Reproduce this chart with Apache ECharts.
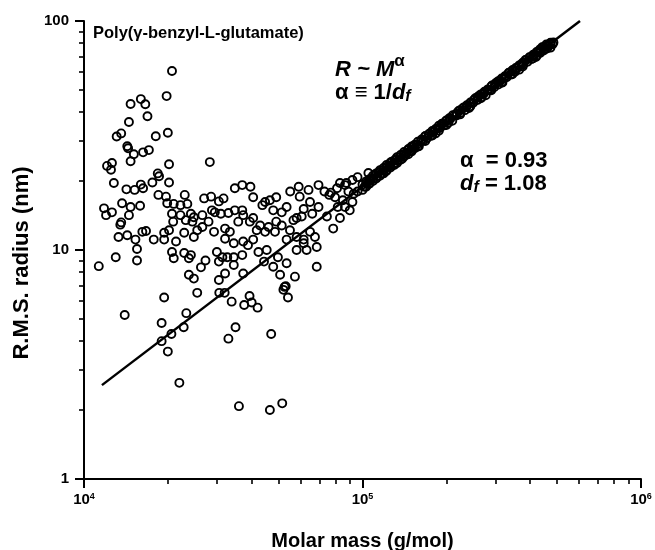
<!DOCTYPE html>
<html>
<head>
<meta charset="utf-8">
<script src="https://cdn.jsdelivr.net/npm/echarts@6/dist/echarts.min.js"></script>
<style>
html,body{margin:0;padding:0;background:#fff;}
#chart{width:655px;height:550px;}
</style>
</head>
<body>
<div id="chart"></div>
<script>
// ---- data (molar mass g/mol, RMS radius nm) ----
const xMajorTicks = [1e4, 1e5, 1e6];
const xMinorTicks = [2e4,3e4,4e4,5e4,6e4,7e4,8e4,9e4,2e5,3e5,4e5,5e5,6e5,7e5,8e5,9e5];
const yMajorTicks = [1, 10, 100];
const yMinorTicks = [2,3,4,5,6,7,8,9,20,30,40,50,60,70,80,90];

const pointsUpper = [
 [2.07e4,60.5],[1.98e4,47],[1.6e4,45.6],[1.66e4,43.3],[1.47e4,43.4],[1.69e4,38.4],[1.45e4,36.2],
 [2.0e4,32.5],[1.81e4,31.4],[1.31e4,31.3],[1.36e4,32.3],[1.43e4,28.4],[1.44e4,27.8],[1.51e4,26.2],
 [1.63e4,26.7],[1.71e4,27.3],[1.47e4,24.4],[2.02e4,23.7],[2.83e4,24.2],[1.21e4,23.3],[1.26e4,24.0],
 [1.25e4,22.4],[1.84e4,21.6],[1.86e4,21.0],[1.6e4,19.3]
];
const pointsCluster = [
 [1.28e4,19.6],[1.42e4,18.4],[1.52e4,18.3],[1.63e4,18.6],[1.76e4,19.7],[2.02e4,19.7],[1.85e4,17.4],
 [1.97e4,17.1],[2.3e4,17.4],[2.7e4,16.8],[2.86e4,17.1],[3.05e4,16.3],[1.18e4,15.2],[1.2e4,14.2],
 [1.26e4,14.6],[1.37e4,16.0],[1.47e4,15.4],[1.59e4,15.6],[1.45e4,14.2],[1.36e4,13.2],[1.35e4,12.9],
 [1.99e4,16.0],[2.1e4,15.9],[2.22e4,15.7],[2.35e4,15.9],[2.07e4,14.4],[2.22e4,14.2],[2.42e4,14.4],
 [2.48e4,13.9],[2.66e4,14.2],[2.88e4,14.9],[2.09e4,13.3],[2.32e4,13.5],[2.45e4,13.3],[2.55e4,12.2],
 [2.66e4,12.6],[2.8e4,13.3],[2.93e4,12.0],[3.1e4,14.4],[1.33e4,11.4],[1.43e4,11.6],[1.53e4,11.1],
 [1.62e4,12.0],[1.67e4,12.1],[1.78e4,11.1],[1.94e4,11.1],[1.94e4,11.9],[2.02e4,12.2],[2.14e4,10.9],
 [2.29e4,11.9],[2.48e4,11.4],[1.55e4,10.1],[1.55e4,9.0],[1.3e4,9.3],[1.13e4,8.5],[2.07e4,9.8],
 [2.1e4,9.2],[2.29e4,9.7],[2.42e4,9.5],[2.38e4,9.2],[2.73e4,9.0],[2.63e4,8.4],[3.05e4,8.9],
 [2.38e4,7.8],[2.48e4,7.5],[3.05e4,7.4],[2.55e4,6.5],[1.94e4,6.2],
 [3.48e4,18.6],[3.7e4,19.2],[3.96e4,18.9],[4.05e4,17.0],[5.9e4,18.9],[5.5e4,18.0],[5.95e4,17.1],
 [4.9e4,17.0],[4.47e4,16.2],[4.65e4,16.5],[4.37e4,15.7],[3.17e4,16.8],[2.95e4,14.6],[3.3e4,14.5],
 [3.48e4,14.9],[3.7e4,14.9],[4.78e4,14.9],[5.13e4,14.6],[5.34e4,15.4],[6.15e4,15.1],[6.48e4,16.2],
 [6.95e4,15.4],[7.6e4,17.4],[8.1e4,18.6],[8.65e4,19.2],[3.73e4,14.2],[3.58e4,13.3],[3.94e4,13.3],
 [4.05e4,13.8],[4.29e4,12.8],[4.6e4,12.6],[4.9e4,13.3],[5.8e4,13.8],[6.05e4,14.0],[6.6e4,14.4],
 [7.45e4,14.0],[8.3e4,13.8],[7.85e4,12.4],[3.21e4,12.4],[3.34e4,12.0],[3.21e4,11.2],[3.45e4,10.7],
 [3.73e4,10.9],[3.88e4,10.5],[4.05e4,11.1],[4.17e4,12.2],[4.47e4,12.0],[4.85e4,12.0],[5.13e4,12.8],
 [5.49e4,12.2],[5.65e4,13.5],[5.34e4,11.1],[5.8e4,11.4],[6.15e4,11.1],[6.48e4,12.0],[6.75e4,11.4],
 [3.0e4,9.8],[3.14e4,9.3],[3.27e4,9.3],[3.45e4,9.3],[3.7e4,9.5],[3.45e4,8.6],[3.21e4,7.9],
 [3.73e4,7.9],[4.23e4,9.8],[4.53e4,10.0],[4.43e4,8.9],[4.78e4,8.45],[4.97e4,9.3],[5.34e4,8.75],
 [5.06e4,7.8],[5.72e4,7.65],[5.8e4,10.0],[6.3e4,10.0],[6.15e4,10.7],[6.85e4,10.3],[6.85e4,8.45]
];
const pointsLower = [
 [3.06e4,6.5],[3.2e4,6.5],[3.39e4,5.95],[3.93e4,6.3],[3.76e4,5.75],[4.0e4,5.9],[4.2e4,5.6],
 [5.2e4,6.7],[5.4e4,6.2],[1.40e4,5.2],[2.33e4,5.3],[1.9e4,4.8],[2.28e4,4.6],[2.06e4,4.3],
 [1.9e4,4.0],[2.0e4,3.6],[3.5e4,4.6],[3.3e4,4.1],[4.7e4,4.3],[2.2e4,2.63],[3.6e4,2.08],
 [4.65e4,2.0],[5.15e4,2.14],[5.25e4,6.9],[5.3e4,6.95]
];
const pointsTransition = [
 [6.95e4,19.2],[7.3e4,18.0],[6.4e4,18.3],[8.3e4,19.6],[8.75e4,19.6],[7.97e4,17.0],[8.5e4,16.5],
 [9.0e4,14.9],[9.2e4,20.2],[9.6e4,20.8],[1.05e5,21.7],[8.15e4,15.4],[8.65e4,15.4],[7.7e4,17.8],
 [9.3e4,17.6],[9.6e4,18.0],[8.9e4,18.0],[9.2e4,16.2]
];
const pointsFitBand = [
 [1.0e5,19.3],[1.0e5,18.3],[1.03e5,19.9],[1.03e5,18.9],[1.06e5,20.4],[1.06e5,19.5],[1.09e5,21.1],
 [1.09e5,20.0],[1.12e5,21.6],[1.12e5,20.5],[1.155e5,22.3],[1.155e5,21.1],[1.19e5,22.8],[1.19e5,21.6],
 [1.22e5,23.5],[1.22e5,22.2],[1.26e5,24.1],[1.26e5,22.9],[1.30e5,24.6],[1.30e5,23.5],[1.33e5,25.4],
 [1.33e5,24.0],[1.37e5,26.0],[1.37e5,24.8],[1.41e5,26.8],[1.41e5,25.6],[1.46e5,27.4],[1.46e5,26.2],
 [1.50e5,28.3],[1.50e5,26.9],[1.54e5,28.8],[1.58e5,29.7],[1.58e5,28.3],[1.63e5,30.4],[1.68e5,31.4],
 [1.68e5,29.9],[1.73e5,32.0],[1.78e5,33.1],[1.78e5,31.6],[1.83e5,33.8],[1.88e5,34.9],[1.88e5,33.2],
 [1.94e5,35.6],[2.0e5,36.8],[2.0e5,35.1],[2.05e5,37.6],[2.11e5,38.8],[2.18e5,39.6],[2.24e5,40.8],
 [2.24e5,39.1],[2.31e5,41.9],[2.37e5,42.9],[2.44e5,44.1],[2.44e5,42.4],[2.51e5,45.2],[2.59e5,46.6],
 [2.66e5,47.8],[2.66e5,46.0],[2.74e5,49.1],[2.82e5,50.3],[2.90e5,51.8],[2.90e5,49.8],[2.99e5,53.1],
 [3.07e5,54.6],[3.16e5,56.1],[3.16e5,53.9],[3.26e5,57.6],[3.35e5,59.1],[3.45e5,60.8],[3.45e5,58.5],
 [3.55e5,62.4],[3.65e5,64.0],[3.76e5,65.8],[3.76e5,63.3],[3.87e5,67.6],[3.98e5,69.4],[4.10e5,71.3],
 [4.10e5,68.7],[4.22e5,73.3],[4.22e5,70.5],[4.34e5,75.2],[4.34e5,72.4],[4.47e5,76.8],[4.47e5,74.3],
 [4.60e5,78.0],[4.60e5,75.8],[4.73e5,79.0],[4.73e5,76.5],[4.85e5,80.5]
];
const pointsFitBandDense = [
 [1.017e5,18.9],[1.035e5,19.6],[1.053e5,19.4],[1.072e5,20.4],[1.090e5,20.4],[1.109e5,21.4],[1.129e5,21.0],
 [1.148e5,21.9],[1.168e5,21.5],[1.189e5,22.3],[1.209e5,22.0],[1.230e5,23.2],[1.252e5,23.2],[1.274e5,24.3],
 [1.296e5,23.8],[1.318e5,24.9],[1.341e5,24.5],[1.365e5,25.4],[1.388e5,25.0],[1.413e5,26.3],[1.437e5,26.4],
 [1.462e5,27.6],[1.488e5,27.1],[1.514e5,28.3],[1.540e5,27.8],[1.567e5,28.8],[1.594e5,28.4],[1.622e5,29.9],
 [1.650e5,30.0],[1.679e5,31.4],[1.708e5,30.8],[1.738e5,32.2],[1.768e5,31.6],[1.799e5,32.8],[1.830e5,32.3],
 [1.862e5,34.0],[1.895e5,34.1],[1.928e5,35.6],[1.961e5,35.0],[1.995e5,36.6],[2.030e5,35.9],[2.065e5,37.3],
 [2.101e5,36.7],[2.138e5,38.7],[2.175e5,38.7],[2.213e5,40.5],[2.252e5,39.8],[2.291e5,41.6],[2.331e5,40.8],
 [2.371e5,42.4],[2.413e5,41.7],[2.455e5,43.9],[2.497e5,44.0],[2.541e5,46.0],[2.585e5,45.2],[2.630e5,47.3],
 [2.676e5,46.4],[2.723e5,48.1],[2.770e5,47.4],[2.818e5,49.9],[2.867e5,50.0],[2.917e5,52.3],[2.968e5,51.4],
 [3.020e5,53.8],[3.073e5,52.8],[3.126e5,54.7],[3.181e5,53.9],[3.236e5,56.8],[3.292e5,56.8],[3.350e5,59.5],
 [3.408e5,58.4],[3.467e5,61.1],[3.528e5,60.0],[3.589e5,62.2],[3.652e5,61.3],[3.715e5,64.5],[3.780e5,64.6],
 [3.846e5,67.6],[3.913e5,66.3],[3.981e5,69.5],[4.050e5,68.2],[4.121e5,70.7],[4.193e5,69.7],[4.266e5,73.3],
 [4.340e5,73.4],[4.416e5,76.8],[4.493e5,75.4],[4.571e5,78.9],[4.650e5,77.5],[4.732e5,80.3],[4.814e5,79.2]
];
// fitted power law R ~ M^0.93: end points of the drawn line
const fitMass = [1.16e4, 6.04e5];
const fitRadius = [2.57, 100];

const FONT = 'Liberation Sans, Arial, sans-serif';
const allPoints = [].concat(pointsUpper, pointsCluster, pointsLower, pointsTransition, pointsFitBand, pointsFitBandDense);
const fitData = fitMass.map((m, i) => [m, fitRadius[i]]);

const chart = echarts.init(document.getElementById('chart'), null, {renderer: 'canvas'});
const option = {
  animation: false,
  backgroundColor: '#fff',
  grid: {left: 84, right: 14, top: 21, bottom: 71, containLabel: false, outerBoundsMode: 'none'},
  xAxis: [
    {
      type: 'log', min: 1e4, max: 1e6, position: 'bottom', splitLine: {show: false},
      axisLine: {show: true, lineStyle: {color: '#000', width: 2}},
      axisTick: {show: true, customValues: xMajorTicks, length: 9, lineStyle: {color: '#000', width: 2}},
      axisLabel: {
        customValues: xMajorTicks, margin: 13, color: '#000',
        formatter: v => '{b|10}{s|' + Math.round(Math.log10(v)) + '}',
        rich: {
          b: {fontFamily: FONT, fontWeight: 'bold', fontSize: 15, color: '#000'},
          s: {fontFamily: FONT, fontWeight: 'bold', fontSize: 9, color: '#000', verticalAlign: 'top'}
        }
      },
      name: 'Molar mass (g/mol)', nameLocation: 'middle', nameGap: 52,
      nameTextStyle: {fontFamily: FONT, fontWeight: 'bold', fontSize: 20, color: '#000'}
    },
    {
      type: 'log', min: 1e4, max: 1e6, position: 'bottom', splitLine: {show: false},
      axisLine: {show: false},
      axisTick: {show: true, customValues: xMinorTicks, length: 5, lineStyle: {color: '#000', width: 1.6}},
      axisLabel: {show: false}
    }
  ],
  yAxis: [
    {
      type: 'log', min: 1, max: 100, position: 'left', splitLine: {show: false},
      axisLine: {show: true, lineStyle: {color: '#000', width: 2}},
      axisTick: {show: true, customValues: yMajorTicks, length: 9, lineStyle: {color: '#000', width: 2}},
      axisLabel: {
        customValues: yMajorTicks, margin: 15, color: '#000',
        fontFamily: FONT, fontWeight: 'bold', fontSize: 15,
        formatter: v => String(Math.round(v))
      }
    },
    {
      type: 'log', min: 1, max: 100, position: 'left', splitLine: {show: false},
      axisLine: {show: false},
      axisTick: {show: true, customValues: yMinorTicks, length: 5, lineStyle: {color: '#000', width: 1.6}},
      axisLabel: {show: false}
    }
  ],
  series: [
    {
      type: 'scatter', xAxisIndex: 0, yAxisIndex: 0, data: allPoints,
      symbol: 'circle', symbolSize: 8, z: 2,
      itemStyle: {color: 'rgba(255,255,255,0)', borderColor: '#000', borderWidth: 1.9, opacity: 1},
      emphasis: {disabled: true}, silent: true
    },
    {
      type: 'line', xAxisIndex: 0, yAxisIndex: 0, data: fitData,
      showSymbol: false, symbol: 'none', z: 5, silent: true,
      lineStyle: {color: '#000', width: 2.5}
    }
  ],
  graphic: [
    {type: 'text', left: 93, top: 25, z: 10, style: {
      text: 'Poly(γ-benzyl-L-glutamate)', fill: '#000',
      font: 'bold 16.5px ' + FONT}},
    {type: 'text', x: 22, y: 263, rotation: Math.PI / 2, z: 10, style: {
      text: 'R.M.S. radius (nm)', fill: '#000', align: 'center', verticalAlign: 'middle',
      font: 'bold 22px ' + FONT}},
    {type: 'text', left: 335, top: 53, z: 10, style: {
      text: '{i|R ~ M}{s|α}', fill: '#000',
      rich: {
        i: {font: 'italic bold 22px ' + FONT, fill: '#000', padding: [6, 0, 0, 0]},
        s: {font: 'bold 17px ' + FONT, fill: '#000', verticalAlign: 'top'}
      }}},
    {type: 'text', left: 335, top: 82, z: 10, style: {
      text: '{n|α ≡ 1/}{i|d}{f|f}', fill: '#000',
      rich: {
        n: {font: 'bold 22px ' + FONT, fill: '#000'},
        i: {font: 'italic bold 22px ' + FONT, fill: '#000'},
        f: {font: 'italic bold 16px ' + FONT, fill: '#000', verticalAlign: 'bottom', padding: [8, 0, 0, 0]}
      }}},
    {type: 'text', left: 460, top: 150, z: 10, style: {
      text: '{n|α  = 0.93}', fill: '#000',
      rich: {n: {font: 'bold 22px ' + FONT, fill: '#000'}}}},
    {type: 'text', left: 460, top: 173, z: 10, style: {
      text: '{i|d}{f|f}{n| = 1.08}', fill: '#000',
      rich: {
        n: {font: 'bold 22px ' + FONT, fill: '#000'},
        i: {font: 'italic bold 22px ' + FONT, fill: '#000'},
        f: {font: 'italic bold 16px ' + FONT, fill: '#000', verticalAlign: 'bottom', padding: [8, 0, 0, 0]}
      }}}
  ]
};
chart.setOption(option);
</script>
</body>
</html>
